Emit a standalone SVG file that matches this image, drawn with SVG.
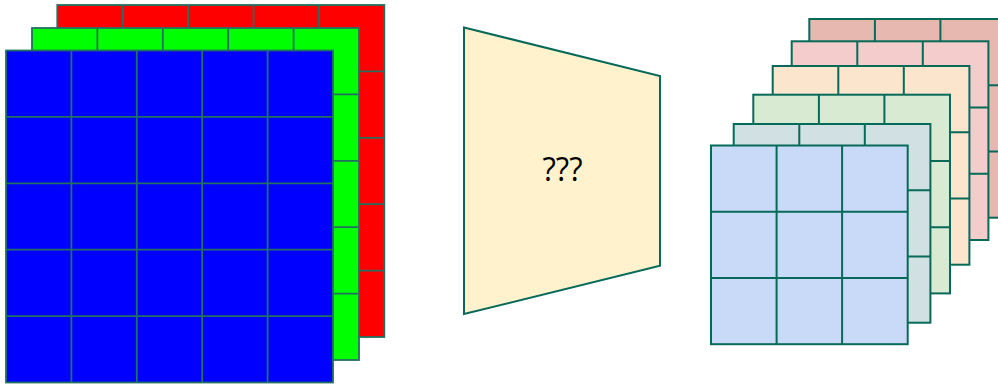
<svg xmlns="http://www.w3.org/2000/svg" width="998" height="384" viewBox="0 0 998 384">
<style>
.gl{stroke:#23705f;stroke-width:1.8}
.gr{stroke:#066a58;stroke-width:2}
path{fill:none}
.txt{font-family:"Open Sans","DejaVu Sans",sans-serif;font-size:33px;fill:#000}
</style>
<rect width="998" height="384" fill="#ffffff"/>
<g id="red-channel">
<rect x="57.3" y="5" width="327" height="332" fill="#ff0000" class="gl"/>
<path class="gl" d="M122.7 5V337M188.1 5V337M253.5 5V337M318.9 5V337M57.3 71.4H384.3M57.3 137.8H384.3M57.3 204.2H384.3M57.3 270.6H384.3"/>
</g>
<g id="green-channel">
<rect x="32" y="28" width="327" height="332" fill="#00ff00" class="gl"/>
<path class="gl" d="M97.4 28V360M162.8 28V360M228.2 28V360M293.6 28V360M32 94.4H359M32 160.8H359M32 227.2H359M32 293.6H359"/>
</g>
<g id="blue-channel">
<rect x="6" y="50.5" width="327" height="332" fill="#0000ff" class="gl"/>
<path class="gl" d="M71.4 50.5V382.5M136.8 50.5V382.5M202.2 50.5V382.5M267.6 50.5V382.5M6 116.9H333M6 183.3H333M6 249.7H333M6 316.1H333"/>
</g>
<g id="unknown-op">
<polygon points="464,27.5 660,76 660,265.7 464,314" fill="#fff2cc" stroke="#066a58" stroke-width="2"/>
<text class="txt" x="562.5" y="181" text-anchor="middle" textLength="40" lengthAdjust="spacingAndGlyphs">???</text>
</g>
<g id="feature-6">
<rect x="809.3" y="19" width="196.7" height="198.7" fill="#e6b8af" class="gr"/>
<path class="gr" d="M874.9 19V217.7M940.4 19V217.7M809.3 85.2H1006M809.3 151.5H1006"/>
</g>
<g id="feature-5">
<rect x="791.7" y="41.3" width="196.7" height="198.7" fill="#f4cccc" class="gr"/>
<path class="gr" d="M857.3 41.3V240M922.8 41.3V240M791.7 107.5H988.4M791.7 173.8H988.4"/>
</g>
<g id="feature-4">
<rect x="772.7" y="66" width="196.7" height="198.7" fill="#fce5cd" class="gr"/>
<path class="gr" d="M838.3 66V264.7M903.8 66V264.7M772.7 132.2H969.4M772.7 198.5H969.4"/>
</g>
<g id="feature-3">
<rect x="753.3" y="94.7" width="196.7" height="198.7" fill="#d9ead3" class="gr"/>
<path class="gr" d="M818.9 94.7V293.4M884.4 94.7V293.4M753.3 160.9H950M753.3 227.2H950"/>
</g>
<g id="feature-2">
<rect x="733.7" y="124" width="196.7" height="198.7" fill="#d0e0e3" class="gr"/>
<path class="gr" d="M799.3 124V322.7M864.8 124V322.7M733.7 190.2H930.4M733.7 256.5H930.4"/>
</g>
<g id="feature-1">
<rect x="711" y="145.5" width="196.7" height="198.7" fill="#c9daf8" class="gr"/>
<path class="gr" d="M776.6 145.5V344.2M842.1 145.5V344.2M711 211.7H907.7M711 278H907.7"/>
</g>
<g id="connectors"></g>
</svg>
